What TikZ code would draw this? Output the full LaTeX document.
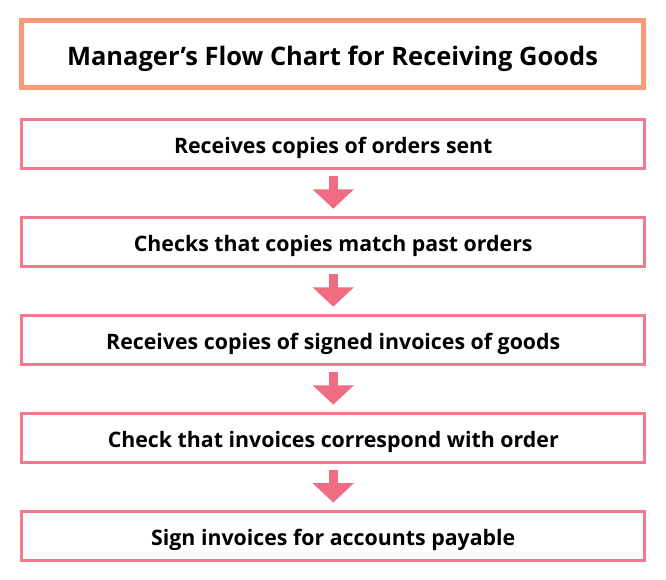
\documentclass[tikz,border=0pt]{standalone}
\usepackage{fontspec}
\setmainfont{Open Sans}
\usetikzlibrary{positioning,arrows.meta}
\definecolor{titleorange}{HTML}{F89B76}
\definecolor{boxpink}{HTML}{F2788C}
\definecolor{arrowpink}{HTML}{EF6C83}
\begin{document}
\begin{tikzpicture}[
        x=0.75pt, y=-0.75pt,
        title/.style={draw=titleorange, line width=3.75pt, minimum width=466.5pt,
                      minimum height=50.6pt, text centered,
                      text height=17.2pt, text depth=0pt,
                      font=\fontsize{19.1}{22}\selectfont\bfseries},
        stage/.style={draw=boxpink, line width=2.25pt, minimum width=467.6pt,
                      minimum height=37.1pt, text centered,
                      text height=15pt, text depth=1pt,
                      font=\fontsize{16}{19}\selectfont\bfseries},
        flow/.style={draw=arrowpink, line width=6.75pt,
                     -{Triangle[width=30pt, length=14.5pt]},
                     shorten <=4.5pt, shorten >=5.2pt},
        node distance=34.1pt,
    ]
        \useasboundingbox (0,0) rectangle (666,579);
        \node[title] (head) at (332.5,54.25)
            {Manager’s Flow Chart for Receiving Goods};

        \node[stage] (orders) at (333.25,144) {Receives copies of orders sent};
        \node[stage, below=of orders] (match)
            {Checks that copies match past orders};
        \node[stage, below=of match] (invoices)
            {Receives copies of signed invoices of goods};
        \node[stage, below=of invoices] (check)
            {Check that invoices correspond with order};
        \node[stage, below=of check] (sign)
            {Sign invoices for accounts payable};

        \draw[flow] (orders) -- (match);
        \draw[flow] (match) -- (invoices);
        \draw[flow] (invoices) -- (check);
        \draw[flow] (check) -- (sign);
    \end{tikzpicture}
\end{document}
